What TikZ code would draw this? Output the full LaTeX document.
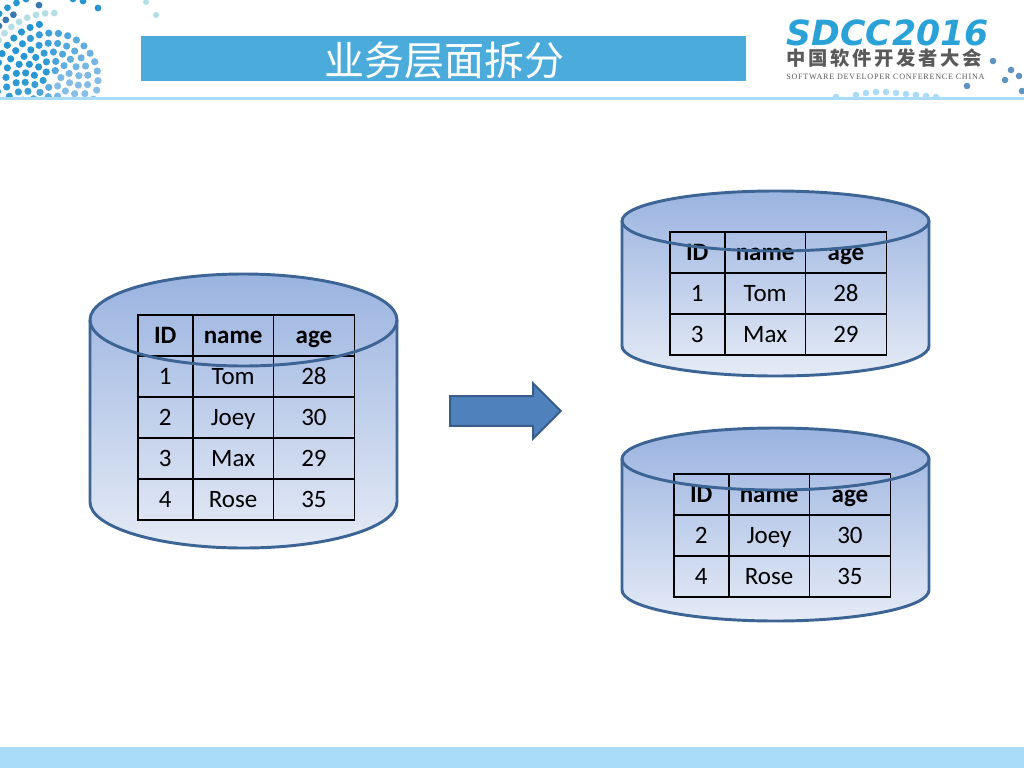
\documentclass[tikz,border=0pt]{standalone}
\usepackage{fontspec}
\usepackage{xcolor}
\usetikzlibrary{shapes.arrows, matrix}
\setmainfont{Carlito}
\newfontfamily\cjkfont{Noto Sans CJK SC}
\newfontfamily\cjklogo[LetterSpace=14]{Noto Sans CJK SC}
\newfontfamily\logofont{DejaVu Sans}
\newfontfamily\sublogofont[LetterSpace=9]{Liberation Serif}
\definecolor{drumTop}{RGB}{154,179,224}
\definecolor{drumBottom}{RGB}{229,235,246}
\definecolor{drumEdge}{RGB}{60,101,149}
\definecolor{arrowFill}{RGB}{79,129,189}
\definecolor{arrowEdge}{RGB}{56,93,138}
\definecolor{titleBlue}{RGB}{75,172,220}
\definecolor{bandBlue}{RGB}{168,220,248}
\definecolor{logoBlue}{RGB}{42,162,216}
\definecolor{logoGrey}{RGB}{90,90,90}
\definecolor{dotDeep}{RGB}{38,150,210}
\definecolor{dotSoft}{RGB}{135,190,232}
\definecolor{dotPale}{RGB}{180,222,230}
\definecolor{dotDark}{RGB}{58,120,176}
% x y z radius: one drum, table goes in between
\newcommand{\drumbody}[4]{
  \path[top color=drumTop, bottom color=drumBottom]
    (#1-153.5,#2) arc[start angle=180, end angle=360, x radius=153.5, y radius=#4]
    -- (#1+153.5,#3) arc[start angle=0, end angle=180, x radius=153.5, y radius=#4] -- cycle;
}
\newcommand{\drumedge}[4]{
  \draw[drumline] (#1-153.5,#2) -- (#1-153.5,#3) arc[start angle=180, end angle=0, x radius=153.5, y radius=#4] -- (#1+153.5,#2);
  \draw[drumline] (#1,#2) ellipse[x radius=153.5, y radius=#4];
}
\begin{document}
\begin{tikzpicture}[
    x=0.75pt, y=-0.75pt,
    drumline/.style={draw=drumEdge, line width=2.2pt},
    cell/.style={draw=black, line width=1.2pt, anchor=center, inner sep=0pt, outer sep=0pt, minimum height=30.75pt,
      text height=12pt, text depth=0pt, font=\fontsize{18.75}{22}\selectfont},
    usertable/.style={matrix of nodes, inner sep=0pt, outer sep=0pt, anchor=north west, nodes={cell},
      row sep=-1.2pt, column sep=-1.2pt,
      row 1/.style={nodes={font=\fontsize{18.75}{22}\selectfont\bfseries}},
      column 1/.style={nodes={minimum width=41.2pt}},
      column 2/.style={nodes={minimum width=60.6pt}},
      column 3/.style={nodes={minimum width=60.6pt}}}
  ]
  \useasboundingbox (0,0) rectangle (1024,768);
  \fill[white] (0,0) rectangle (1024,768);

  % header dots
  \begin{scope}
    \clip (0,0) rectangle (1024,96);
    \foreach \rad in {9,18,27,36,46}{
      \pgfmathtruncatemacro{\dotcount}{round(2*pi*\rad/9.6)}
      \foreach \i in {1,...,\dotcount}{
        \pgfmathsetmacro{\ang}{\i*360/\dotcount+\rad}
        \pgfmathtruncatemacro{\pct}{50+50*cos(\ang-150)}
        \fill[dotDeep!\pct!dotSoft] ({52+\rad*cos(\ang)},{79-\rad*sin(\ang)}) circle (3.6);
      }
    }
    \foreach \ang in {103,113,...,233} \fill[dotDeep] ({52+56*cos(\ang)},{79-56*sin(\ang)}) circle (3.6);
    \foreach \ang in {88,96,...,168} \fill[dotPale] ({52+66*cos(\ang)},{79-66*sin(\ang)}) circle (3.4);
    \foreach \ang in {100,121,128,135,142,149,157,165} \fill[dotDark] ({52+75*cos(\ang)},{79-75*sin(\ang)}) circle (3.4);
    \foreach \ang in {108,115,122,129,136,143} \fill[dotDeep] ({52+84*cos(\ang)},{79-84*sin(\ang)}) circle (3.4);
    \foreach \px/\py in {98/8,83/1,73/-1} \fill[dotDeep] (\px,\py) circle (3.4);
    \foreach \px/\py in {146/2,156/15,50/-4} \fill[dotPale] (\px,\py) circle (3);
    \foreach \px/\py in {993/61,1011/70,1019/76,1005/80,967/86,1022/91} \fill[dotDark!80] (\px,\py) circle (3.3);
    \foreach \px/\py in {836/97,856/95,866/93,876/92,886/92,896/93,906/94,916/95,926/96,936/97} \fill[bandBlue] (\px,\py) circle (3.3);
  \end{scope}

  % title and logo
  \fill[bandBlue] (0,97) rectangle (1024,100);
  \node[fill=titleBlue, minimum width=453.75pt, minimum height=33.75pt, inner sep=0pt, anchor=north west] (titlebar) at (141,36) {};
  \node[text=white, font=\cjkfont\fontsize{30}{32}\selectfont] (titletext) at (444,60) {业务层面拆分};
  \node[text=logoBlue, font=\logofont\fontsize{26}{28}\selectfont\bfseries\itshape, anchor=base west, inner sep=0pt] (logomain) at (786,45) {SDCC\kern1pt 2016};
  \node[text=logoGrey, font=\cjklogo\fontsize{14.5}{16}\selectfont\bfseries, anchor=base west, inner sep=0pt] (logocn) at (786,65) {中国软件开发者大会};
  \node[text=logoGrey, font=\sublogofont\fontsize{6.1}{7}\selectfont, anchor=base west, inner sep=0pt] (logoen) at (786,79) {SOFTWARE DEVELOPER CONFERENCE CHINA};
  \fill[bandBlue] (0,747) rectangle (1024,768);

  % source drum
  \drumbody{243.5}{320}{502}{46}
  \matrix[usertable] (tableall) at (137,314) {
    ID & name & age \\
    1 & Tom & 28 \\
    2 & Joey & 30 \\
    3 & Max & 29 \\
    4 & Rose & 35 \\
  };
  \drumedge{243.5}{320}{502}{46}

  % upper split drum
  \drumbody{775.5}{221}{346}{30}
  \matrix[usertable] (tableodd) at (669,231) {
    ID & name & age \\
    1 & Tom & 28 \\
    3 & Max & 29 \\
  };
  \drumedge{775.5}{221}{346}{30}

  % lower split drum
  \drumbody{775.5}{459}{590}{31}
  \matrix[usertable] (tableeven) at (673,473) {
    ID & name & age \\
    2 & Joey & 30 \\
    4 & Rose & 35 \\
  };
  \drumedge{775.5}{459}{590}{31}

  \node[single arrow, fill=arrowFill, draw=arrowEdge, line width=1.5pt, anchor=west, inner xsep=0pt, inner ysep=10.4pt, outer sep=0pt,
    minimum width=41pt, minimum height=83pt, single arrow head extend=9.6pt, single arrow head indent=0pt] (splitarrow) at (450,411) {};
\end{tikzpicture}
\end{document}
